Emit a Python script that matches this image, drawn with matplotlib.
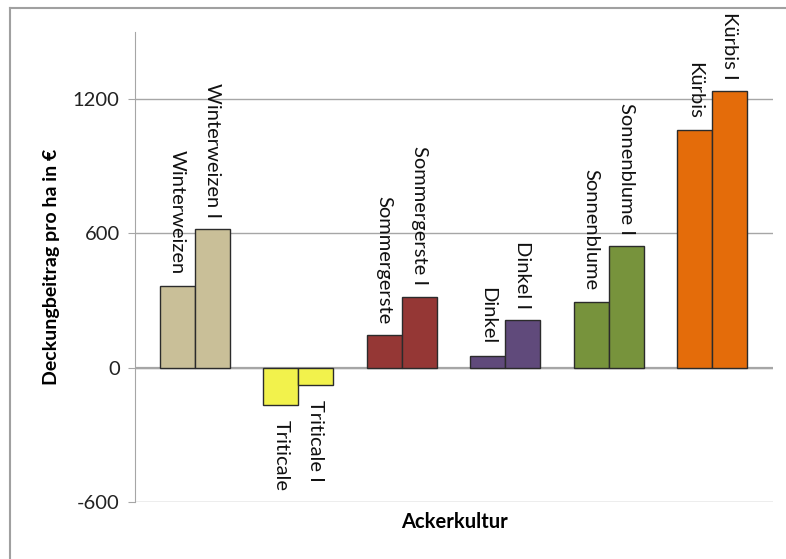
import matplotlib
matplotlib.use("Agg")
import matplotlib.pyplot as plt
from matplotlib.lines import Line2D

plt.rcParams['font.family'] = ['Lato', 'DejaVu Sans']
plt.rcParams['axes.unicode_minus'] = False

kulturen = ['Winterweizen', 'Triticale', 'Sommergerste', 'Dinkel', 'Sonnenblume', 'Kürbis']
werte = [367, -165, 144, 53, 295, 1060]
werte_i = [620, -75, 318, 214, 545, 1236]
farben = ['#C9BF98', '#F2F24C', '#953735', '#604A7B', '#77933C', '#E46C0A']
y_ticks = [-600, 0, 600, 1200]

fig = plt.figure(figsize=(7.86, 5.59), dpi=100)
ax = fig.add_axes([135 / 786, 1 - 502 / 559, (773 - 135) / 786, (502 - 32) / 559])

w = 0.338
for i, name in enumerate(kulturen):
    for dx, val, lab in [(-w / 2, werte[i], name), (w / 2, werte_i[i], name + ' I')]:
        ax.bar(i + dx, val, width=w, color=farben[i], edgecolor='#2b2b2b', linewidth=1, zorder=3)
        off = 8 if val >= 0 else -11
        ax.annotate(lab, (i + dx, val), xytext=(0, off), textcoords='offset points',
                    rotation=-90, ha='center', va='bottom' if val >= 0 else 'top',
                    fontsize=14.5, color='#111111', zorder=4)

ax.set_xlim(-0.58, 5.59)
ax.set_ylim(-600, 1500)
ax.set_yticks(y_ticks)
ax.set_xticks([])
ax.grid(axis='y', color='#a6a6a6', linewidth=1, zorder=0)
ax.axhline(0, color='#a6a6a6', linewidth=1.6, zorder=2)
for s in ['top', 'right', 'bottom']:
    ax.spines[s].set_visible(False)
ax.spines['left'].set_color('#a6a6a6')
ax.tick_params(axis='y', length=5, color='#a6a6a6', labelsize=14.5, labelcolor='#222222', pad=6)

fig.text(52 / 786, 1 - 267 / 559, 'Deckungbeitrag pro ha in €', rotation=90, ha='center', va='center',
         fontsize=14, fontweight='bold')
fig.text(454 / 786, 1 - 522 / 559, 'Ackerkultur', ha='center', va='center', fontsize=14.5, fontweight='bold')

# Rahmen (oben und links)
fig.add_artist(Line2D([10 / 786, 10 / 786], [0, 1 - 8 / 559], transform=fig.transFigure, color='#a0a0a0', lw=1.5))
fig.add_artist(Line2D([10 / 786, 1], [1 - 8 / 559, 1 - 8 / 559], transform=fig.transFigure, color='#a0a0a0', lw=1.5))

fig.savefig('out.png', dpi=100)
